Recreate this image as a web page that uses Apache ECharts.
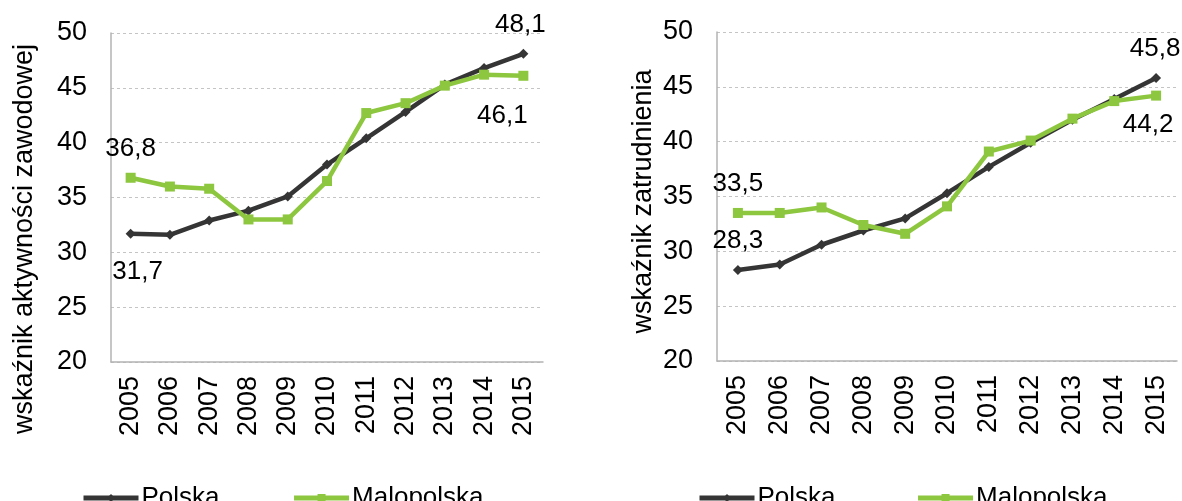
<!DOCTYPE html>
<html>
<head>
<meta charset="utf-8">
<script src="https://cdn.jsdelivr.net/npm/echarts@6/dist/echarts.min.js"></script>
<style>
  html, body { margin: 0; padding: 0; background: #ffffff; }
  #chart { width: 1182px; height: 501px; }
</style>
</head>
<body>
<div id="chart"></div>
<script>
// Years on the category axes
const years = ['2005', '2006', '2007', '2008', '2009', '2010', '2011', '2012', '2013', '2014', '2015'];

// Activity rate (wskaźnik aktywności zawodowej)
const activityPolska     = [31.7, 31.6, 32.9, 33.8, 35.1, 38.0, 40.4, 42.8, 45.3, 46.8, 48.1];
const activityMalopolska = [36.8, 36.0, 35.8, 33.0, 33.0, 36.5, 42.7, 43.6, 45.2, 46.2, 46.1];

// Employment rate (wskaźnik zatrudnienia)
const employmentPolska     = [28.3, 28.8, 30.6, 31.9, 33.0, 35.3, 37.7, 39.9, 42.0, 43.9, 45.8];
const employmentMalopolska = [33.5, 33.5, 34.0, 32.4, 31.6, 34.1, 39.1, 40.1, 42.1, 43.7, 44.2];

// Value axis range
const yMin = 20, yMax = 50, yStep = 5;

const FONT = "'Liberation Sans', Arial, sans-serif";
const AXIS_FS = 27;
const LABEL_FS = 26;
const LEGEND_FS = 26;
const DARK = '#353535';
const GREEN = '#8DC63F';

const fmt = v => v.toFixed(1).replace('.', ',');

// Attach value labels to chosen points (first / last year)
function labelled(values, marks) {
  return values.map((v, i) => {
    const m = marks[i];
    if (!m) return v;
    return {
      value: v,
      label: {
        show: true,
        position: m.pos,
        distance: m.dist,
        offset: m.off || [0, 0],
        formatter: p => fmt(p.value),
        fontFamily: FONT, fontSize: LABEL_FS, color: '#000', lineHeight: LABEL_FS
      }
    };
  });
}

const last = years.length - 1;

function valueAxis(idx, name, gap, shift) {
  return {
    type: 'value', gridIndex: idx, min: yMin, max: yMax, interval: yStep,
    name: name, nameLocation: 'middle', nameGap: gap, nameRotate: 90,
    nameTextStyle: { fontFamily: FONT, fontSize: AXIS_FS, color: '#000', padding: [0, shift, 0, 0] },
    axisLine: { show: true, lineStyle: { color: '#b3b3b3', width: 1.5 } },
    axisTick: { show: false },
    axisLabel: { fontFamily: FONT, fontSize: AXIS_FS, color: '#000', margin: 24 },
    splitLine: { show: true, lineStyle: { color: '#c4c4c4', type: [3, 3], width: 1 } }
  };
}

function categoryAxis(idx) {
  return {
    type: 'category', gridIndex: idx, data: years, boundaryGap: true,
    axisLine: { show: true, lineStyle: { color: '#b3b3b3', width: 1.5 } },
    axisTick: { show: false },
    axisLabel: { rotate: 90, fontFamily: FONT, fontSize: AXIS_FS, color: '#000', margin: 14, interval: 0 }
  };
}

function polskaSeries(idx, values, marks) {
  return {
    name: 'Polska', type: 'line', xAxisIndex: idx, yAxisIndex: idx,
    data: labelled(values, marks),
    symbol: 'diamond', symbolSize: 10, showAllSymbol: true,
    lineStyle: { color: DARK, width: 4.5 },
    itemStyle: { color: DARK },
    z: 3
  };
}

function malopolskaSeries(idx, values, marks) {
  return {
    name: 'Malopolska', type: 'line', xAxisIndex: idx, yAxisIndex: idx,
    data: labelled(values, marks),
    symbol: 'rect', symbolSize: 10, showAllSymbol: true,
    lineStyle: { color: GREEN, width: 4.5 },
    itemStyle: { color: GREEN },
    z: 4
  };
}

function legendAt(left, gap) {
  return {
    left: left, top: 480, itemWidth: 55, itemHeight: 10, itemGap: gap,
    data: ['Polska', 'Malopolska'],
    lineStyle: { width: 5 },
    textStyle: { fontFamily: FONT, fontSize: LEGEND_FS, color: '#000', padding: [0, 0, 0, -2] },
    selectedMode: false
  };
}

const chart = echarts.init(document.getElementById('chart'), null, { renderer: 'canvas' });

chart.setOption({
  animation: false,
  backgroundColor: '#ffffff',
  grid: [
    { left: 111, top: 33, width: 432, height: 329 },
    { left: 717, top: 32, width: 460, height: 329 }
  ],
  xAxis: [categoryAxis(0), categoryAxis(1)],
  yAxis: [
    valueAxis(0, 'wskaźnik aktywności zawodowej', 73, 83),
    valueAxis(1, 'wskaźnik zatrudnienia', 60, 10)
  ],
  legend: [legendAt(76, 72), legendAt(692, 80)],
  series: [
    polskaSeries(0, activityPolska, {
      0: { pos: 'bottom', dist: 20, off: [7, 0] },
      [last]: { pos: 'top', dist: 11, off: [-3, 0] }
    }),
    malopolskaSeries(0, activityMalopolska, {
      0: { pos: 'top', dist: 11 },
      [last]: { pos: 'bottom', dist: 22, off: [-21, 0] }
    }),
    polskaSeries(1, employmentPolska, {
      0: { pos: 'top', dist: 11 },
      [last]: { pos: 'top', dist: 11, off: [-1, 0] }
    }),
    malopolskaSeries(1, employmentMalopolska, {
      0: { pos: 'top', dist: 11 },
      [last]: { pos: 'bottom', dist: 11, off: [-8, 0] }
    })
  ]
});
</script>
</body>
</html>
